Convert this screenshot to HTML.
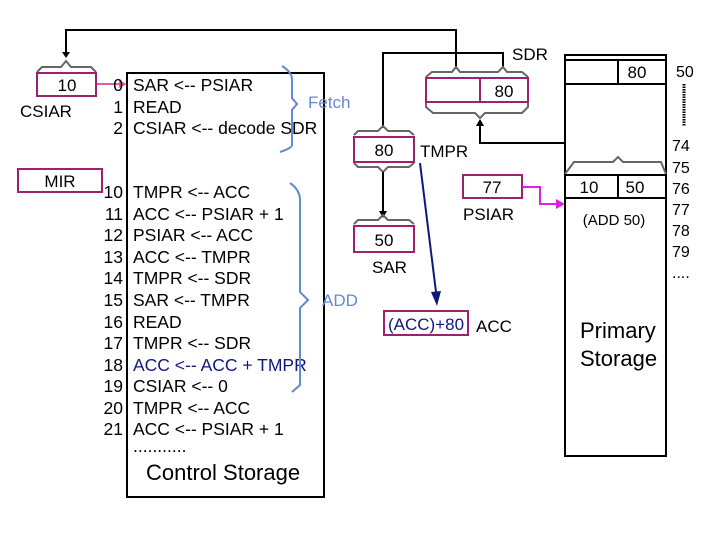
<!DOCTYPE html>
<html><head><meta charset="utf-8"><style>body{margin:0;background:#fff}svg{display:block}text{font-family:"Liberation Sans",Arial,sans-serif}</style></head><body>
<svg width="720" height="540" viewBox="0 0 720 540" xmlns="http://www.w3.org/2000/svg">
<polyline points="456,68 456,30 66,30 66,54" fill="none" stroke="#000" stroke-width="2"/>
<path d="M62,52 L70,52 L66,58z" fill="#000"/>
<path d="M37,72 L42,67 L61,67 L66,61 L71,67 L91,67 L96,72" fill="none" stroke="#666" stroke-width="2"/>
<rect x="37" y="73" width="59" height="23" fill="#fff" stroke="#a02070" stroke-width="2"/>
<text x="67" y="91" font-size="17" text-anchor="middle">10</text>
<text x="20" y="117" font-size="17">CSIAR</text>
<line x1="97" y1="84" x2="120" y2="84" stroke="#e060a0" stroke-width="2"/>
<path d="M119,80 L127,84 L119,88z" fill="#e060a0"/>
<rect x="18" y="169" width="84" height="23" fill="#fff" stroke="#a02070" stroke-width="2"/>
<text x="60" y="187" font-size="17" text-anchor="middle">MIR</text>
<rect x="127" y="73" width="197" height="424" fill="#fff" stroke="#000" stroke-width="2"/>
<g font-size="17.5">
<text x="123" y="91" text-anchor="end">0</text><text x="133" y="91">SAR &lt;-- PSIAR</text>
<text x="123" y="113" text-anchor="end">1</text><text x="133" y="113">READ</text>
<text x="123" y="134" text-anchor="end">2</text><text x="133" y="134">CSIAR &lt;-- decode SDR</text>
<text x="123" y="198" text-anchor="end">10</text><text x="133" y="198">TMPR &lt;-- ACC</text>
<text x="123" y="220" text-anchor="end">11</text><text x="133" y="220">ACC &lt;-- PSIAR + 1</text>
<text x="123" y="241" text-anchor="end">12</text><text x="133" y="241">PSIAR &lt;-- ACC</text>
<text x="123" y="263" text-anchor="end">13</text><text x="133" y="263">ACC &lt;-- TMPR</text>
<text x="123" y="284" text-anchor="end">14</text><text x="133" y="284">TMPR &lt;-- SDR</text>
<text x="123" y="306" text-anchor="end">15</text><text x="133" y="306">SAR &lt;-- TMPR</text>
<text x="123" y="328" text-anchor="end">16</text><text x="133" y="328">READ</text>
<text x="123" y="349" text-anchor="end">17</text><text x="133" y="349">TMPR &lt;-- SDR</text>
<text x="123" y="371" text-anchor="end">18</text><text x="133" y="371" fill="#101880">ACC &lt;-- ACC + TMPR</text>
<text x="123" y="392" text-anchor="end">19</text><text x="133" y="392">CSIAR &lt;-- 0</text>
<text x="123" y="414" text-anchor="end">20</text><text x="133" y="414">TMPR &lt;-- ACC</text>
<text x="123" y="435" text-anchor="end">21</text><text x="133" y="435">ACC &lt;-- PSIAR + 1</text>
<text x="133" y="452">...........</text>
</g>
<text x="146" y="480" font-size="22">Control Storage</text>
<path d="M282,66 Q292,72 292,80 L292,98 L297,104 L292,110 L292,145 Q292,148 280,152" fill="none" stroke="#6688d0" stroke-width="2"/>
<text x="308" y="108" font-size="17" fill="#6688d0">Fetch</text>
<path d="M290,183 Q300,190 300,200 L300,292 L308,300 L300,308 L300,385 L292,392" fill="none" stroke="#6688d0" stroke-width="2"/>
<text x="322" y="306" font-size="17" fill="#6688d0">ADD</text>
<polyline points="383,128 383,53 503,53 503,68" fill="none" stroke="#000" stroke-width="2"/>
<path d="M426,77 L432,72 L452,72 L456,67 L460,72 L498,72 L503,67 L507,72 L522,72 L528,77" fill="none" stroke="#666" stroke-width="2"/>
<rect x="426" y="78" width="102" height="24" fill="#fff" stroke="#a02070" stroke-width="2"/>
<line x1="480" y1="78" x2="480" y2="102" stroke="#a02070" stroke-width="2"/>
<text x="504" y="97" font-size="17" text-anchor="middle">80</text>
<path d="M426,103 L426,107 L433,113 L475,113 L480,118 L485,113 L522,113 L528,107 L528,103" fill="none" stroke="#666" stroke-width="2"/>
<text x="512" y="60" font-size="17">SDR</text>
<polyline points="618,157 618,143 480,143 480,124" fill="none" stroke="#000" stroke-width="2"/>
<path d="M476,126 L484,126 L480,119z" fill="#000"/>
<path d="M354,135 L358,131 L378,131 L383,126 L388,131 L409,131 L414,135" fill="none" stroke="#666" stroke-width="2"/>
<rect x="354" y="137" width="60" height="25" fill="#fff" stroke="#a02070" stroke-width="2"/>
<text x="384" y="156" font-size="17" text-anchor="middle">80</text>
<path d="M354,163 L358,167 L378,167 L383,172 L388,167 L409,167 L414,163" fill="none" stroke="#666" stroke-width="2"/>
<text x="420" y="157" font-size="17">TMPR</text>
<line x1="383" y1="172" x2="383" y2="212" stroke="#000" stroke-width="2"/>
<path d="M379,211 L387,211 L383,218z" fill="#000"/>
<path d="M354,224 L358,220 L378,220 L383,215 L388,220 L409,220 L414,224" fill="none" stroke="#666" stroke-width="2"/>
<rect x="354" y="226" width="60" height="26" fill="#fff" stroke="#a02070" stroke-width="2"/>
<text x="384" y="246" font-size="17" text-anchor="middle">50</text>
<text x="372" y="273" font-size="17">SAR</text>
<line x1="420" y1="163" x2="436" y2="292" stroke="#101880" stroke-width="2"/>
<path d="M431,292 L441,291 L437,306z" fill="#101880"/>
<rect x="384" y="311" width="84" height="24" fill="#fff" stroke="#a02070" stroke-width="2"/>
<text x="426" y="330" font-size="17" text-anchor="middle" fill="#101880">(ACC)+80</text>
<text x="476" y="332" font-size="17">ACC</text>
<rect x="463" y="175" width="59" height="23" fill="#fff" stroke="#a02070" stroke-width="2"/>
<text x="492" y="193" font-size="17" text-anchor="middle">77</text>
<text x="463" y="220" font-size="17">PSIAR</text>
<polyline points="522,187 540,187 540,204 558,204" fill="none" stroke="#e020e0" stroke-width="2"/>
<path d="M556,199 L565,204 L556,209z" fill="#e020e0"/>
<rect x="565" y="55" width="101" height="401" fill="#fff" stroke="#000" stroke-width="2"/>
<line x1="565" y1="60" x2="666" y2="60" stroke="#000" stroke-width="2"/>
<line x1="565" y1="84" x2="666" y2="84" stroke="#000" stroke-width="2"/>
<line x1="618" y1="60" x2="618" y2="84" stroke="#000" stroke-width="2"/>
<text x="637" y="78" font-size="17" text-anchor="middle">80</text>
<path d="M565,174 L574,162 L613,162 L618,157 L623,162 L661,162 L666,174" fill="none" stroke="#666" stroke-width="2"/>
<line x1="565" y1="175" x2="666" y2="175" stroke="#000" stroke-width="2"/>
<line x1="565" y1="198" x2="666" y2="198" stroke="#000" stroke-width="2"/>
<line x1="618" y1="175" x2="618" y2="198" stroke="#000" stroke-width="2"/>
<text x="589" y="193" font-size="17" text-anchor="middle">10</text>
<text x="635" y="193" font-size="17" text-anchor="middle">50</text>
<text x="614" y="225" font-size="15" text-anchor="middle">(ADD 50)</text>
<text x="580" y="338" font-size="22">Primary</text>
<text x="580" y="366" font-size="22">Storage</text>
<g font-size="16">
<text x="676" y="77">50</text>
<line x1="684" y1="84" x2="684" y2="126" stroke="#000" stroke-width="3" stroke-dasharray="1.5,1"/>
<text x="672" y="151">74</text><text x="672" y="173">75</text><text x="672" y="194">76</text>
<text x="672" y="215">77</text><text x="672" y="236">78</text><text x="672" y="257">79</text>
<text x="672" y="278">....</text>
</g>
</svg>
</body></html>
